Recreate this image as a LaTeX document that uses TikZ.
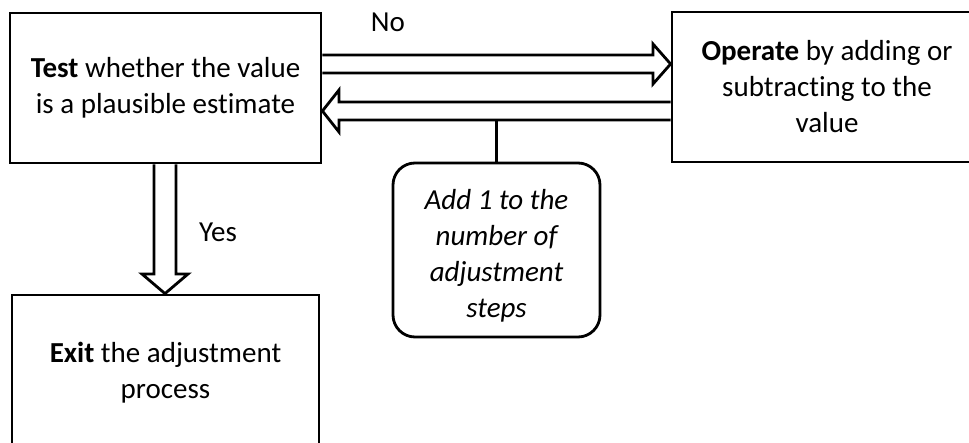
\documentclass[tikz,border=0pt]{standalone}
\usepackage{fontspec}
\setmainfont[Ligatures=NoCommon]{Carlito}
\begin{document}
\begin{tikzpicture}[x=1pt,y=-1pt,line width=2.8pt,line join=miter,
  box/.style={draw,rectangle,inner sep=0pt,align=center,font=\fontsize{29}{36}\selectfont},
  txt/.style={inner sep=0pt,align=center,font=\fontsize{29}{36}\selectfont},
  roundbox/.style={box,rounded corners=22pt},
  lbl/.style={inner sep=0pt,font=\fontsize{29}{34}\selectfont},
  blockarrow/.style={draw,line width=2.8pt,fill=white}]
\useasboundingbox (0,0) rectangle (969,443);
\clip (0,0) rectangle (969,443);
\node[box,minimum width=311pt,minimum height=150pt] (test) at (165.5,88)
  {\textbf{Test} whether the value\\is a plausible estimate};
\node[box,minimum width=310pt,minimum height=150pt] (operate) at (827,87)
  {\textbf{Operate} by adding or\\subtracting to the\\value};
\node[box,minimum width=307pt,minimum height=150pt] (exit) at (165.5,370) {};
\node[txt] (exittext) at (165.5,373)
  {\textbf{Exit} the adjustment\\process};
\node[roundbox,minimum width=207pt,minimum height=174pt] (add) at (496.5,250) {};
\node[txt,font=\fontsize{29}{36}\selectfont\itshape] (addtext) at (496.5,256)
  {Add 1 to the\\number of\\adjustment\\steps};
\node[lbl] (no) at (388,22) {No};
\node[lbl] (yes) at (218,232) {Yes};
% No arrow: test -> operate
\draw[blockarrow] (test.east |- 0,55) -- (653,55) -- (653,44) -- (operate.west |- 0,64)
  -- (653,84) -- (653,73) -- (test.east |- 0,73);
% back arrow: operate -> test
\draw[blockarrow] (operate.west |- 0,102) -- (339,102) -- (339,90) -- (test.east |- 0,111)
  -- (339,132) -- (339,120) -- (operate.west |- 0,120);
% Yes arrow: test -> exit
\draw[blockarrow] (154,0 |- test.south) -- (154,274) -- (142,274) -- (165,0 |- exit.north)
  -- (188,274) -- (176,274) -- (176,0 |- test.south);
% connector
\draw (add.north |- 0,120) -- (add.north);
\end{tikzpicture}
\end{document}
